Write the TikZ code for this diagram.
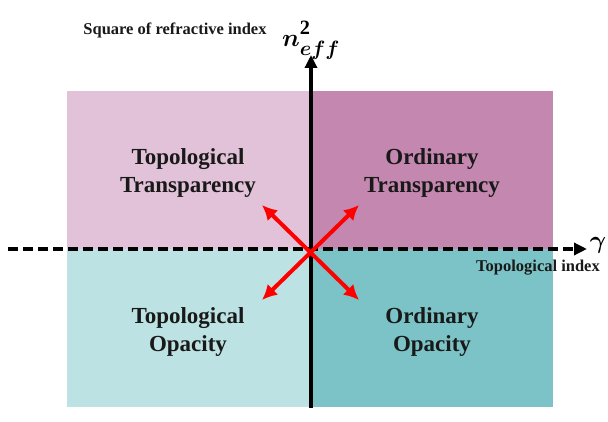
\documentclass[tikz,border=0pt]{standalone}
\usepackage{fontspec}
\usepackage{amsmath}
\usepackage{bm}
\setmainfont{Liberation Serif}
\usetikzlibrary{arrows.meta}
\definecolor{tlpink}{HTML}{E2C2D8}
\definecolor{trpink}{HTML}{C488B0}
\definecolor{blcyan}{HTML}{BDE2E3}
\definecolor{brcyan}{HTML}{7BC3C6}
\definecolor{arrred}{HTML}{FF0000}
\tikzset{
  quadtext/.style={align=center,font=\fontsize{23}{28}\selectfont\bfseries,text=black!90},
  smalltext/.style={inner sep=1pt,font=\fontsize{16.5}{19}\selectfont\bfseries,text=black!90},
  axisline/.style={line width=3.4pt,-{Triangle[length=13pt,width=12pt]}},
  redarrow/.style={draw=arrred,line width=4pt,{Latex[length=15pt,width=15pt]}-{Latex[length=15pt,width=15pt]}}
}
\begin{document}
\begin{tikzpicture}[x=1pt,y=-1pt]
      \useasboundingbox (0,0) rectangle (608,422);
      % quadrants
      \fill[tlpink] (67,91) rectangle (311,249);
      \fill[trpink] (311,91) rectangle (553,249);
      \fill[blcyan] (67,249) rectangle (311,407);
      \fill[brcyan] (311,249) rectangle (553,407);
      \draw
        (188,173) node[quadtext] (tl){Topological\\Transparency}
        (432,173) node[quadtext] (tr){Ordinary\\Transparency}
        (188,332) node[quadtext] (bl){Topological\\Opacity}
        (432,332) node[quadtext] (br){Ordinary\\Opacity};
      % axes
      \coordinate (ybot) at (311,408);
      \coordinate (ytop) at (311,55);
      \coordinate (xleft) at (8,249);
      \coordinate (xright) at (587,249);
      \draw[axisline] (ybot) -- (ytop);
      \draw[axisline,dash pattern=on 10pt off 5pt] (xleft) -- (xright);
      \node[inner sep=0pt] (neff) at (311,40) {\fontsize{29}{32}\selectfont$\boldsymbol{n}^{\raisebox{3pt}{$\scriptstyle\mathbf{2}$}}_{\raisebox{-2pt}{$\scriptstyle\boldsymbol{eff}$}}$};
      \node[inner sep=0pt] (gam) at (598,245) {\fontsize{30}{32}\selectfont$\boldsymbol{\gamma}$};
      \node[smalltext] (ylab) at (175,30) {Square of refractive index};
      \node[smalltext] (xlab) at (538,268) {Topological index};
      % red arrows
      \coordinate (ul) at (262,205);
      \coordinate (ur) at (359,205);
      \coordinate (ll) at (262,300);
      \coordinate (lr) at (359,300);
      \begin{scope}[redarrow]
        \draw (ul) to (lr);
        \draw (ur) to (ll);
      \end{scope}
    \end{tikzpicture}
\end{document}
